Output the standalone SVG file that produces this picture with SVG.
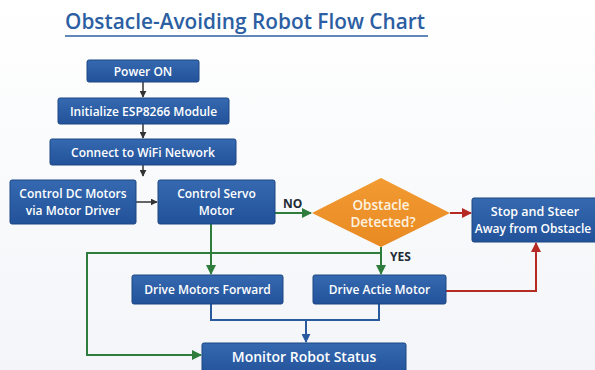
<svg xmlns="http://www.w3.org/2000/svg" width="595" height="370" viewBox="0 0 595 370">
  <defs>
    <linearGradient id="bg" x1="0" y1="0" x2="0" y2="1">
      <stop offset="0" stop-color="#ffffff"/>
      <stop offset="1" stop-color="#f3f5f8"/>
    </linearGradient>
    <linearGradient id="boxFill" x1="0" y1="0" x2="0" y2="1">
      <stop offset="0" stop-color="#3569b0"/>
      <stop offset="1" stop-color="#22529a"/>
    </linearGradient>
    <linearGradient id="diaFill" x1="0" y1="0" x2="0" y2="1">
      <stop offset="0" stop-color="#f39a33"/>
      <stop offset="1" stop-color="#e88a22"/>
    </linearGradient>
    <marker id="arrDark" viewBox="0 0 10 10" refX="9" refY="5" markerWidth="7" markerHeight="7" orient="auto" markerUnits="userSpaceOnUse">
      <path d="M0,0 L10,5 L0,10 z" fill="#333333"/>
    </marker>
    <marker id="arrGreen" viewBox="0 0 10 10" refX="9" refY="5" markerWidth="10" markerHeight="10" orient="auto" markerUnits="userSpaceOnUse">
      <path d="M0,0 L10,5 L0,10 z" fill="#2e7d3c"/>
    </marker>
    <marker id="arrRed" viewBox="0 0 10 10" refX="9" refY="5" markerWidth="10" markerHeight="10" orient="auto" markerUnits="userSpaceOnUse">
      <path d="M0,0 L10,5 L0,10 z" fill="#b52a22"/>
    </marker>
    <marker id="arrBlue" viewBox="0 0 10 10" refX="9" refY="5" markerWidth="9" markerHeight="9" orient="auto" markerUnits="userSpaceOnUse">
      <path d="M0,0 L10,5 L0,10 z" fill="#2a5a9e"/>
    </marker>
  </defs>
  <style>
    .box { fill: url(#boxFill); stroke: #1d4683; stroke-width: 1; }
    .lbl { font-family: "Open Sans", "Liberation Sans", sans-serif; font-weight: 600; font-size: 12px; fill: #ffffff; text-anchor: middle; }
    .dlbl { font-family: "Open Sans", "Liberation Sans", sans-serif; font-weight: 600; font-size: 13.5px; fill: #fdf3e2; text-anchor: middle; }
    .tag { font-family: "Open Sans", "Liberation Sans", sans-serif; font-weight: 700; font-size: 12px; fill: #1e2a35; }
    .dark { fill: none; stroke: #333333; stroke-width: 1.5; }
    .green { fill: none; stroke: #2e7d3c; stroke-width: 2; }
    .red { fill: none; stroke: #b52a22; stroke-width: 2; }
    .blue { fill: none; stroke: #2a5a9e; stroke-width: 2; }
  </style>

  <rect x="0" y="0" width="595" height="370" fill="url(#bg)"/>

  <!-- title -->
  <g id="title">
    <text x="65" y="29" font-family="Open Sans, Liberation Sans, sans-serif" font-weight="600" font-size="22" fill="#2c5ea3" textLength="360" lengthAdjust="spacingAndGlyphs">Obstacle-Avoiding Robot Flow Chart</text>
    <line x1="65" y1="36" x2="428" y2="36" stroke="#2c5ea3" stroke-width="1.5"/>
  </g>

  <!-- connectors -->
  <g id="connectors">
    <line class="dark" x1="143" y1="82" x2="143" y2="97" marker-end="url(#arrDark)"/>
    <line class="dark" x1="143" y1="124" x2="143" y2="138" marker-end="url(#arrDark)"/>
    <line class="dark" x1="143" y1="165" x2="143" y2="176" marker-end="url(#arrDark)"/>
    <line class="dark" x1="136" y1="202" x2="157" y2="202" marker-end="url(#arrDark)"/>
    <!-- NO branch -->
    <line class="green" x1="275" y1="213" x2="311" y2="213" marker-end="url(#arrGreen)"/>
    <!-- to stop box -->
    <line class="red" x1="450" y1="213" x2="471" y2="213" marker-end="url(#arrRed)"/>
    <!-- servo down to drive forward -->
    <line class="green" x1="211" y1="224" x2="211" y2="274" marker-end="url(#arrGreen)"/>
    <!-- YES branch -->
    <line class="green" x1="381" y1="247" x2="381" y2="274" marker-end="url(#arrGreen)"/>
    <!-- loop to monitor -->
    <polyline class="green" points="381,253 87,253 87,355 201,355" marker-end="url(#arrGreen)"/>
    <!-- actie motor to stop box -->
    <polyline class="red" points="446,291 536,291 536,243" marker-end="url(#arrRed)"/>
    <!-- merge into monitor -->
    <polyline class="blue" points="211,304 211,320 379,320 379,304"/>
    <line class="blue" x1="306" y1="320" x2="306" y2="342" marker-end="url(#arrBlue)"/>
  </g>

  <g id="power-on">
    <rect class="box" x="87" y="60" width="112" height="22" rx="2"/>
    <text class="lbl" x="143" y="75.5">Power ON</text>
  </g>
  <g id="init-esp">
    <rect class="box" x="58" y="98" width="171" height="26" rx="2"/>
    <text class="lbl" x="143.5" y="115.5">Initialize ESP8266 Module</text>
  </g>
  <g id="connect-wifi">
    <rect class="box" x="50" y="139" width="186" height="26" rx="2"/>
    <text class="lbl" x="143" y="156.5">Connect to WiFi Network</text>
  </g>
  <g id="dc-motors">
    <rect class="box" x="10" y="180" width="126" height="44" rx="2"/>
    <text class="lbl" x="73" y="198">Control DC Motors</text>
    <text class="lbl" x="73" y="215">via Motor Driver</text>
  </g>
  <g id="servo">
    <rect class="box" x="158" y="180" width="117" height="44" rx="2"/>
    <text class="lbl" x="216.5" y="198">Control Servo</text>
    <text class="lbl" x="216.5" y="215">Motor</text>
  </g>
  <g id="no-label">
    <text class="tag" x="283" y="208">NO</text>
  </g>
  <g id="obstacle">
    <polygon points="381,178 450,213 381,247 312,213" fill="url(#diaFill)"/>
    <text class="dlbl" x="381" y="210">Obstacle</text>
    <text class="dlbl" x="383" y="227">Detected?</text>
  </g>
  <g id="yes-label">
    <text class="tag" x="390" y="261">YES</text>
  </g>
  <g id="stop-steer">
    <rect class="box" x="472" y="198" width="130" height="44" rx="2"/>
    <text class="lbl" x="535" y="216" style="font-size:12.5px">Stop and Steer</text>
    <text class="lbl" x="533" y="233" style="font-size:12px">Away from Obstacle</text>
  </g>
  <g id="drive-forward">
    <rect class="box" x="132" y="275" width="151" height="29" rx="2"/>
    <text class="lbl" x="207.5" y="294">Drive Motors Forward</text>
  </g>
  <g id="drive-actie">
    <rect class="box" x="313" y="275" width="133" height="29" rx="2"/>
    <text class="lbl" x="379.5" y="294">Drive Actie Motor</text>
  </g>
  <g id="monitor">
    <rect class="box" x="202" y="343" width="204" height="32" rx="2"/>
    <text class="lbl" x="304" y="362" style="font-size:14px">Monitor Robot Status</text>
  </g>
</svg>
